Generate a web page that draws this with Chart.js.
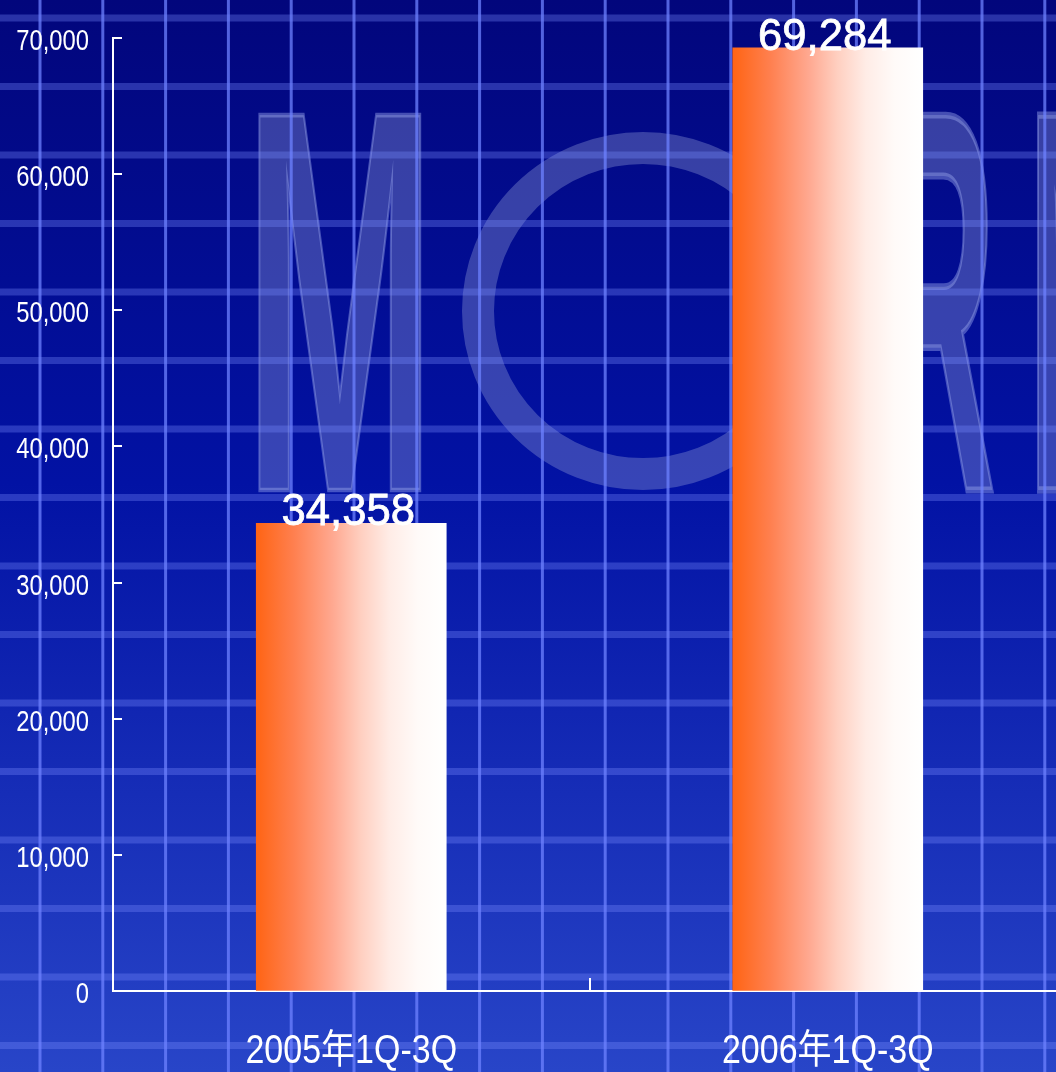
<!DOCTYPE html>
<html>
<head>
<meta charset="utf-8">
<script src="https://cdn.jsdelivr.net/npm/chart.js@4/dist/chart.umd.min.js"></script>
<style>
    html, body { margin: 0; padding: 0; overflow: hidden; background: #0a1aa0; }
    canvas { display: block; }
</style>
</head>
<body>
<canvas id="sales" width="1080" height="1072"></canvas>
<script>
const categories = ["2005年1Q-3Q", "2006年1Q-3Q"];
const values = [34358, 69284];
const yMin = 0, yMax = 70000, yStep = 10000;

const sans = "'Liberation Sans', Arial, 'Noto Sans CJK SC', sans-serif";
const fmt = (v)=> Number(v).toLocaleString("en-US");

// background picture: gradient, grid, faded watermark
const backdrop = {
    id: "backdrop",
    beforeDraw(chart) {
        const ctx = chart.ctx, w = chart.width, h = chart.height;
        ctx.save();
        let g = ctx.createLinearGradient(0, 0, 0, h);
        g.addColorStop(0, "#02067c");
        g.addColorStop(0.45, "#0212a4");
        g.addColorStop(1, "#2845c8");
        ctx.fillStyle = g;
        ctx.fillRect(0, 0, w, h);

        // watermark letters
        ctx.fillStyle = "rgba(150,160,215,0.36)";
        ctx.strokeStyle = "rgba(150,165,235,0.45)";
        ctx.font = "bold 100px 'Liberation Sans', Arial, sans-serif";
        ctx.textBaseline = "alphabetic";
        const letter = (ch, x, sx)=> {
            ctx.save();
            ctx.translate(x, 490);
            ctx.scale(sx, 5.45);
            ctx.lineWidth = 2 / sx;
            ctx.fillText(ch, 0, 0);
            ctx.strokeText(ch, 0, 0);
            ctx.restore();
        };
        letter("M", 244, 2.3);
        letter("R", 880, 1.6);
        letter("N", 1028, 1.5);
        ctx.beginPath();
        ctx.ellipse(643, 311, 165, 163, 0, 0, Math.PI * 2);
        ctx.lineWidth = 32;
        ctx.strokeStyle = "rgba(150,160,215,0.36)";
        ctx.stroke();

        // horizontal bands
        ctx.fillStyle = "rgba(120,140,255,0.33)";
        for(let y = 18; y < h; y += 68.5)
            ctx.fillRect(0, y - 3.5, w, 7);
        // vertical lines
        ctx.fillStyle = "rgba(110,130,255,0.75)";
        for(let x = 40; x < w; x += 62.8)
            ctx.fillRect(x - 1.5, 0, 3, h);
        ctx.restore();
    }
};

// narrow-looking axis labels and small inward tick marks
const axisDecor = {
    id: "axisDecor",
    afterDraw(chart) {
        const ctx = chart.ctx, y = chart.scales.y, x = chart.scales.x;
        const left = chart.chartArea.left, bottom = chart.chartArea.bottom;
        ctx.save();
        ctx.strokeStyle = "#ffffff";
        ctx.lineWidth = 2;
        ctx.beginPath();
        y.ticks.forEach((t)=> {
            const py = Math.round(y.getPixelForValue(t.value));
            ctx.moveTo(left, py);
            ctx.lineTo(left + 9, py);
        });
        for(let i = 1; i < categories.length; i++) {
            const px = Math.round((x.getPixelForValue(i - 1) + x.getPixelForValue(i)) / 2);
            ctx.moveTo(px, bottom);
            ctx.lineTo(px, bottom - 13);
        }
        ctx.stroke();

        ctx.fillStyle = "#ffffff";
        ctx.textBaseline = "middle";
        ctx.textAlign = "right";
        ctx.font = "29px " + sans;
        y.ticks.forEach((t)=> {
            const py = y.getPixelForValue(t.value);
            ctx.save();
            ctx.translate(left - 24, py + 4);
            ctx.scale(0.82, 1);
            ctx.fillText(fmt(t.value), 0, 0);
            ctx.restore();
        });

        ctx.textBaseline = "alphabetic";
        ctx.textAlign = "center";
        ctx.font = "40px " + sans;
        x.ticks.forEach((t, i)=> {
            const px = x.getPixelForValue(i);
            ctx.save();
            ctx.translate(px, 1063);
            ctx.scale(0.85, 1);
            ctx.fillText(categories[i], 0, 0);
            ctx.restore();
        });
        ctx.restore();
    }
};

const valueLabels = {
    id: "valueLabels",
    afterDatasetsDraw(chart) {
        const ctx = chart.ctx;
        const meta = chart.getDatasetMeta(0);
        ctx.save();
        ctx.fillStyle = "#ffffff";
        ctx.strokeStyle = "#ffffff";
        ctx.lineWidth = 0.8;
        ctx.font = "45px " + sans;
        ctx.textAlign = "center";
        ctx.textBaseline = "alphabetic";
        meta.data.forEach((bar, i)=> {
            ctx.save();
            ctx.translate(bar.x - 3, bar.y + 2);
            ctx.scale(0.97, 1);
            ctx.fillText(fmt(values[i]), 0, 0);
            ctx.strokeText(fmt(values[i]), 0, 0);
            ctx.restore();
        });
        ctx.restore();
    }
};

function barFill(c) {
    const chart = c.chart;
    const xs = chart.scales && chart.scales.x;
    if(!xs || !chart.chartArea)
        return "#ff7a40";
    const cx = xs.getPixelForValue(c.dataIndex);
    const g = chart.ctx.createLinearGradient(cx - 95, 0, cx + 95, 0);
    g.addColorStop(0, "#ff6414");
    g.addColorStop(0.2, "#ff8050");
    g.addColorStop(0.4, "#ffa890");
    g.addColorStop(0.55, "#ffcfc0");
    g.addColorStop(0.7, "#ffece6");
    g.addColorStop(0.85, "#fffaf8");
    g.addColorStop(1, "#ffffff");
    return g;
}

window.onload = ()=> {
    new Chart("sales", {
        type: "bar",
        data: {
            labels: categories,
            datasets: [{
                data: values,
                backgroundColor: barFill,
                borderWidth: 0,
                barThickness: 190
            }]
        },
        options: {
            responsive: false,
            animation: false,
            devicePixelRatio: 1,
            layout: { padding: { top: 38, right: 14, left: 0, bottom: 0 } },
            plugins: {
                legend: { display: false },
                tooltip: { enabled: false }
            },
            scales: {
                x: {
                    grid: { display: true, color: "rgba(0,0,0,0)", drawTicks: false },
                    border: { display: true, color: "#ffffff", width: 2 },
                    ticks: { display: false },
                    afterFit: (s)=> { s.height = 81; }
                },
                y: {
                    min: yMin,
                    max: yMax,
                    grid: { display: true, color: "rgba(0,0,0,0)", drawTicks: false },
                    border: { display: true, color: "#ffffff", width: 2 },
                    ticks: { display: false, stepSize: yStep },
                    afterFit: (s)=> { s.width = 113; }
                }
            }
        },
        plugins: [backdrop, axisDecor, valueLabels]
    });
};
</script>
</body>
</html>
